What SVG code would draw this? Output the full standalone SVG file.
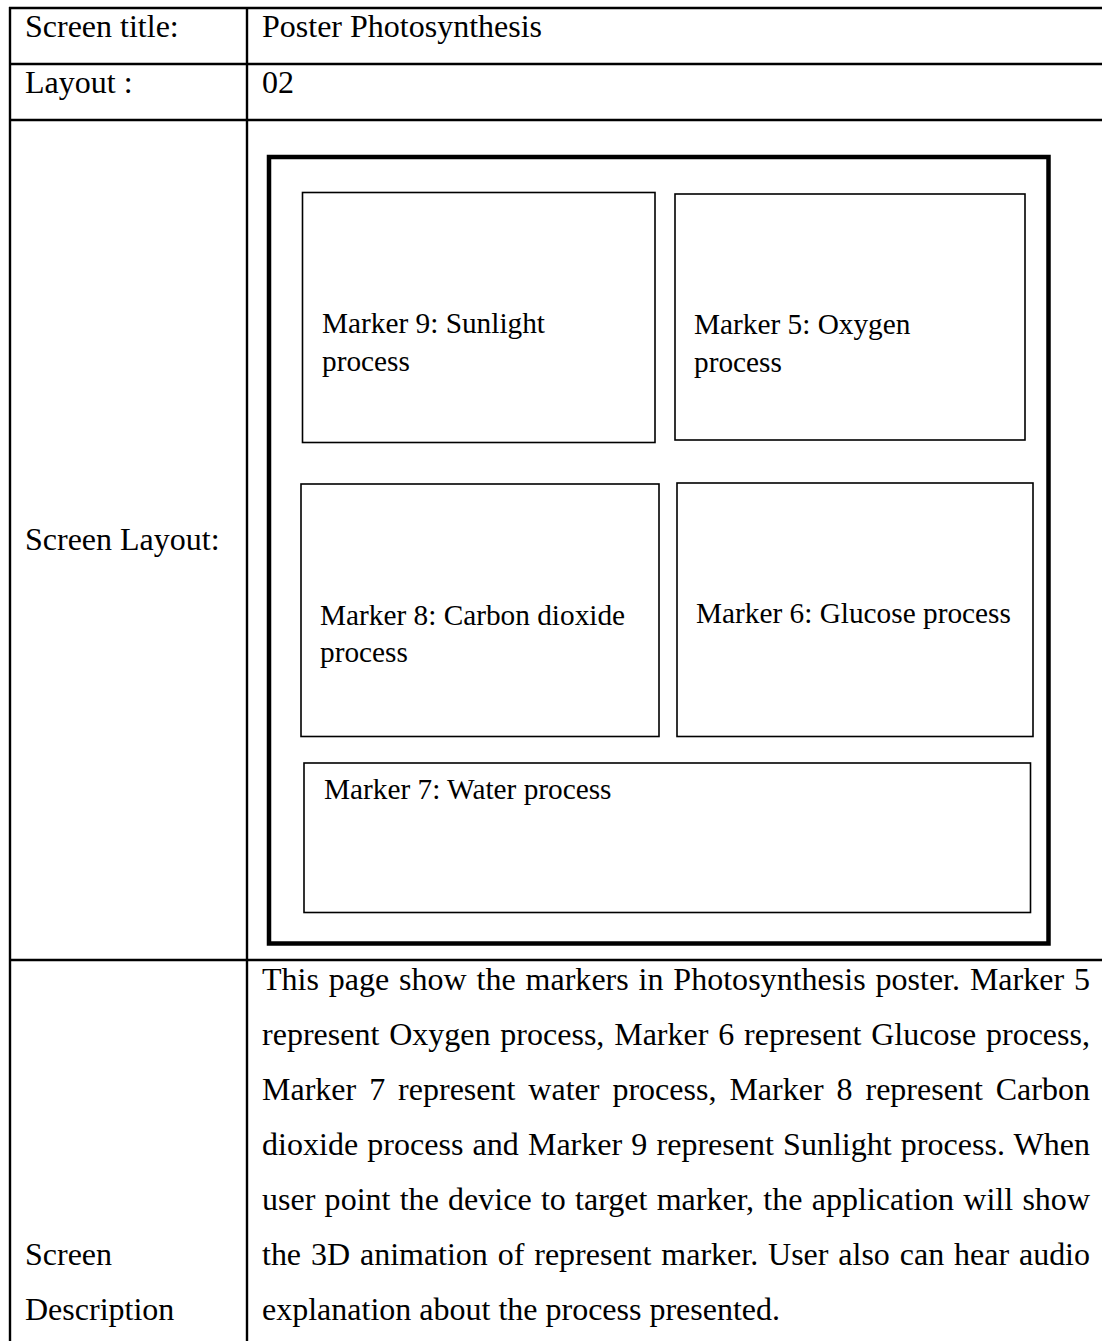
<svg xmlns="http://www.w3.org/2000/svg" width="1102" height="1341" viewBox="0 0 1102 1341">
  <style>
    .grid { stroke: #000; stroke-width: 2.4; fill: none; }
    .cell { font-family: "Liberation Serif", "Times New Roman", serif; font-size: 32px; fill: #000; }
    .frame { stroke: #000; stroke-width: 4.5; fill: none; }
    .box { stroke: #000; stroke-width: 1.6; fill: #fff; }
    .lbl { font-family: "Liberation Serif", "Times New Roman", serif; font-size: 29.3px; fill: #000; }
  </style>
  <rect width="1102" height="1341" fill="#fff"/>

  <!-- table rules -->
  <g id="table-grid">
    <line class="grid" x1="9" y1="8" x2="1102" y2="8"/>
    <line class="grid" x1="9" y1="64" x2="1102" y2="64"/>
    <line class="grid" x1="9" y1="120" x2="1102" y2="120"/>
    <line class="grid" x1="9" y1="960" x2="1102" y2="960"/>
    <line class="grid" x1="10" y1="7" x2="10" y2="1341"/>
    <line class="grid" x1="247" y1="7" x2="247" y2="1341"/>
  </g>

  <!-- row headings and values -->
  <g id="table-text">
    <text class="cell" x="25" y="37">Screen title:</text>
    <text class="cell" x="262" y="37">Poster Photosynthesis</text>
    <text class="cell" x="25" y="93">Layout :</text>
    <text class="cell" x="262" y="93">02</text>
    <text class="cell" x="25" y="550">Screen Layout:</text>
    <text class="cell" x="25" y="1265">Screen</text>
    <text class="cell" x="25" y="1320">Description</text>
  </g>

  <!-- poster layout sketch -->
  <g id="poster-frame">
    <rect class="frame" x="269" y="157" width="779.5" height="786.5"/>
  </g>
  <g id="marker-9">
    <rect class="box" x="302.5" y="192.5" width="352.5" height="250"/>
    <text class="lbl" x="322" y="333">Marker 9: Sunlight</text>
    <text class="lbl" x="322" y="371">process</text>
  </g>
  <g id="marker-5">
    <rect class="box" x="675" y="194" width="350" height="246"/>
    <text class="lbl" x="694" y="334">Marker 5: Oxygen</text>
    <text class="lbl" x="694" y="372">process</text>
  </g>
  <g id="marker-8">
    <rect class="box" x="301" y="484" width="358" height="252.5"/>
    <text class="lbl" x="320" y="625">Marker 8: Carbon dioxide</text>
    <text class="lbl" x="320" y="662">process</text>
  </g>
  <g id="marker-6">
    <rect class="box" x="677" y="483" width="356" height="253.5"/>
    <text class="lbl" x="696" y="623">Marker 6: Glucose process</text>
  </g>
  <g id="marker-7">
    <rect class="box" x="304" y="763" width="726.5" height="149.5"/>
    <text class="lbl" x="324" y="799">Marker 7: Water process</text>
  </g>

  <!-- description paragraph, justified to the cell width -->
  <g id="description">
    <text class="cell" x="262" y="990" word-spacing="1.8" textLength="828" lengthAdjust="spacing">This page show the markers in Photosynthesis poster. Marker 5</text>
    <text class="cell" x="262" y="1045" word-spacing="1.8" textLength="828" lengthAdjust="spacing">represent Oxygen process, Marker 6 represent Glucose process,</text>
    <text class="cell" x="262" y="1100" word-spacing="4.9" textLength="828" lengthAdjust="spacing">Marker 7 represent water process, Marker 8 represent Carbon</text>
    <text class="cell" x="262" y="1155" word-spacing="1.1" textLength="828" lengthAdjust="spacing">dioxide process and Marker 9 represent Sunlight process. When</text>
    <text class="cell" x="262" y="1210" word-spacing="1.2" textLength="828" lengthAdjust="spacing">user point the device to target marker, the application will show</text>
    <text class="cell" x="262" y="1265" word-spacing="1.9" textLength="828" lengthAdjust="spacing">the 3D animation of represent marker. User also can hear audio</text>
    <text class="cell" x="262" y="1320">explanation about the process presented.</text>
  </g>
</svg>
